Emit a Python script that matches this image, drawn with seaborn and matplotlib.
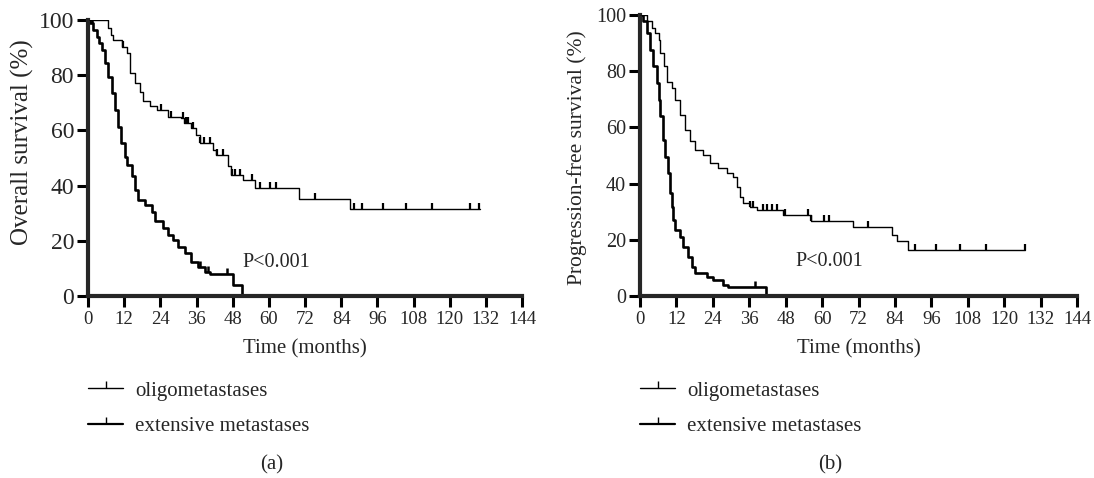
import numpy as np
import seaborn as sns
import matplotlib.pyplot as plt
from matplotlib.lines import Line2D

sns.set_style("ticks")
plt.rcParams['font.family'] = ['Liberation Serif', 'DejaVu Serif']

# ---- data (time in months, survival in %) ----
# (a) overall survival
os_oligo_t = [0, 6.8, 7.5, 8.2, 11.2, 13, 14, 15.6, 17.3, 18.4, 20.6, 22.8, 26.6, 31, 32,
              34.2, 35.9, 37, 41.5, 42.5, 46.5, 47.5, 51.5, 55.4, 70.1, 87, 130]
os_oligo_s = [100, 97, 94.5, 92.8, 90.3, 88, 80.7, 77, 74, 70.5, 68.7, 67.4, 65, 64.5, 62.6,
              61, 58.4, 55.4, 53, 51, 47, 43.8, 42, 39, 35, 31.4, 31.4]
os_oligo_cens = [0.7, 1.5, 3.4, 5, 11.5, 24.3, 27.6, 31.5, 32.5, 33.3, 34.8, 37, 38.5, 40.5,
                 42.7, 44.8, 47.7, 48.8, 50.4, 54.3, 57, 60.4, 62.4, 75.3, 88.3, 90.8, 97.8,
                 105.4, 114.2, 126.7, 129.8]

os_ext_t = [0, 0.8, 1.8, 2.9, 3.7, 4.6, 5.7, 6.8, 7.9, 8.9, 10, 11.1, 12.2, 12.9, 14.5, 15.6,
            16.7, 18.9, 21.1, 22.1, 24.9, 26.5, 28.2, 29.9, 32.1, 34.3, 36.5, 38.7, 40.4, 48.2, 51]
os_ext_s = [100, 98.9, 96.5, 94, 91.5, 89.2, 84.4, 79.5, 73.5, 67.5, 61.4, 55.4, 50.5, 47.5,
            43.3, 38.4, 34.8, 33, 30.6, 27, 24.6, 22.1, 20.3, 17.9, 15.5, 12.4, 10.6, 8.8, 8, 4, 0]
os_ext_cens = [0.5, 1.2, 37, 39.8, 46.2]

# (b) progression-free survival
pfs_oligo_t = [0, 2.2, 3.8, 5, 6.1, 6.7, 7.8, 8.8, 10.4, 11.5, 13.2, 14.8, 16.5, 18.1, 20.9,
               23.1, 25.8, 28.6, 30.8, 31.8, 33, 34.1, 36.2, 38.4, 47.1, 56.2, 70.3, 82.9,
               84.6, 88.4, 126.9]
pfs_oligo_s = [100, 97.7, 95.5, 93.6, 91.2, 86.5, 81.7, 76.3, 74, 69.8, 64.5, 59.1, 55, 52,
               50.2, 47.3, 45.5, 43.7, 42.5, 38.9, 35.4, 33, 31.8, 30.6, 28.8, 26.8, 24.5,
               21.7, 19.4, 16.4, 16.4]
pfs_oligo_cens = [0.5, 1.2, 36.4, 37.2, 40.5, 41.9, 43.6, 45.2, 47.9, 55.5, 56.5, 60.7, 62.3,
                  75, 90.6, 97.4, 105.4, 113.9, 126.9]

pfs_ext_t = [0, 1.1, 2.2, 3.3, 4.4, 5.5, 6.1, 6.6, 7.5, 8.2, 9.3, 9.9, 10.4, 11, 11.5, 13.2,
             14.3, 15.9, 17, 18.1, 22, 24.2, 27.5, 29.1, 41.5]
pfs_ext_s = [100, 97.7, 93.6, 87.6, 81.7, 75.8, 69.8, 63.9, 55.6, 49.6, 43.7, 36.6, 31.8, 27.1,
             23.5, 21.1, 17.6, 14, 10.4, 8.1, 6.9, 5.7, 3.9, 3.1, 0]
pfs_ext_cens = [0.4, 37.9]

time_ticks = list(range(0, 145, 12))
surv_ticks = [0, 20, 40, 60, 80, 100]
group_labels = ["oligometastases", "extensive metastases"]


def step_value(t, s, at):
    idx = np.searchsorted(np.array(t), np.array(at), side="right") - 1
    return np.array(s)[idx]


def km(ax, t, s, cens, lw, mw):
    sns.lineplot(x=t, y=s, ax=ax, drawstyle="steps-post", estimator=None,
                 color="black", linewidth=lw)
    sns.scatterplot(x=cens, y=step_value(t, s, cens), ax=ax, marker=2, s=18,
                    color="black", linewidth=mw, zorder=3)


W, H = 1094, 478
fig = plt.figure(figsize=(W / 100, H / 100), dpi=100)
ax_a = fig.add_axes([88 / W, (H - 296) / H, 434 / W, 276 / H])
ax_b = fig.add_axes([640 / W, (H - 296) / H, 437 / W, 281 / H])

km(ax_a, os_oligo_t, os_oligo_s, os_oligo_cens, 1.0, 1.6)
km(ax_a, os_ext_t, os_ext_s, os_ext_cens, 1.9, 1.8)
km(ax_b, pfs_oligo_t, pfs_oligo_s, pfs_oligo_cens, 1.0, 1.6)
km(ax_b, pfs_ext_t, pfs_ext_s, pfs_ext_cens, 1.9, 1.8)

panels = [
    (ax_a, "Overall survival (%)", 17, 18, (-0.124, 0.558), 272, "(a)"),
    (ax_b, "Progression-free survival (%)", 14.5, 15.5, (-0.121, 0.493), 830, "(b)"),
]
for ax, ylab, ytick_fs, ylab_fs, ylab_xy, cap_x, cap in panels:
    ax.set_xlim(0, 144)
    ax.set_ylim(0, 100)
    ax.set_xticks(time_ticks)
    ax.set_yticks(surv_ticks)
    sns.despine(ax=ax)
    for sp in ["left", "bottom"]:
        ax.spines[sp].set_linewidth(3)
    ax.tick_params(axis="both", direction="out", length=8, width=2.2, color="black")
    ax.tick_params(axis="x", labelsize=13.5, pad=3)
    ax.tick_params(axis="y", labelsize=ytick_fs, pad=2)
    ax.set_xlabel("Time (months)", fontsize=15)
    ax.xaxis.set_label_coords(0.5, -0.155)
    ax.set_ylabel(ylab, fontsize=ylab_fs)
    ax.yaxis.set_label_coords(*ylab_xy)
    ax.text(51.3, 12.3, "P<0.001", fontsize=14.5, va="center")

    handles = [Line2D([0], [0], color="black", lw=1.0, marker=2, markersize=5, mew=1.0),
               Line2D([0], [0], color="black", lw=1.6, marker=2, markersize=5, mew=1.0)]
    x0 = ax.get_position().x0
    ax.legend(handles, group_labels, loc="upper left",
              bbox_to_anchor=(x0, 1 - 381 / H), bbox_transform=fig.transFigure,
              frameon=False, fontsize=15, handlelength=1.7, handletextpad=0.55,
              labelspacing=0.75, borderpad=0, borderaxespad=0, numpoints=1)
    fig.text(cap_x / W, 1 - 465 / H, cap, ha="center", va="center", fontsize=15)

fig.savefig("out.png", dpi=100)
